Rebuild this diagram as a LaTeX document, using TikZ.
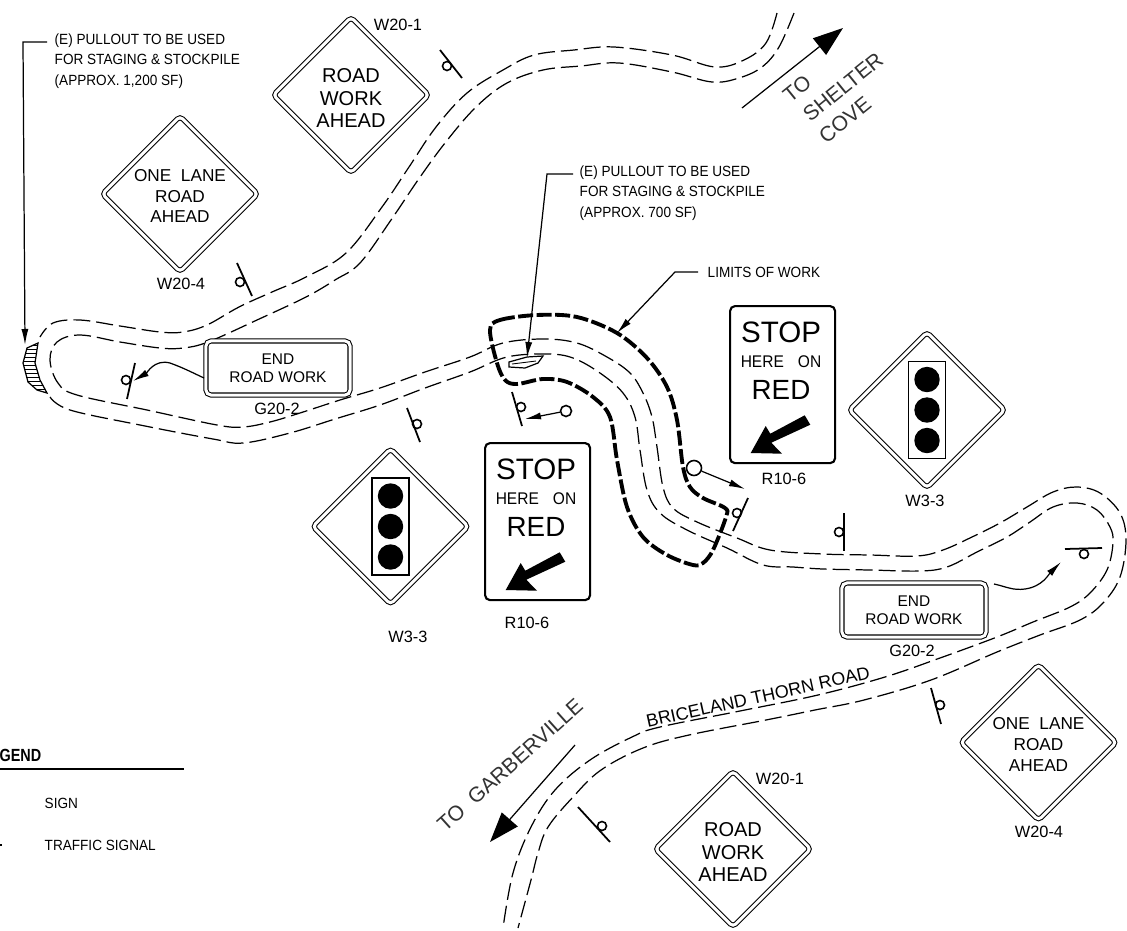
\documentclass[tikz,border=0pt]{standalone}
\usepackage{fontspec}
\setmainfont{Liberation Sans}
\newfontfamily\notefont[FakeStretch=0.92]{Liberation Sans}
\newfontfamily\legendfont[FakeStretch=0.82]{Liberation Sans}
\usetikzlibrary{arrows.meta,shapes.geometric}
\tikzset{
    roadedge/.style={line width=0.35pt,dash pattern=on 0.17cm off 0.06cm},
    limitline/.style={line width=1.1pt,dash pattern=on 0.15cm off 0.035cm},
    roadsign/.style={diamond,draw,double,double distance=0.03cm,line width=0.3pt,aspect=1,inner sep=0pt,
        minimum width=1.56cm,minimum height=1.56cm,rounded corners=0.04cm},
    worktext/.style={inner sep=0pt,align=center,font=\fontsize{5.7}{6.5}\selectfont},
    lanetext/.style={inner sep=0pt,align=center,font=\fontsize{4.9}{5.9}\selectfont},
    endsign/.style={draw,double,double distance=0.03cm,line width=0.3pt,rounded corners=0.05cm,inner sep=0pt,
        minimum width=1.44cm,minimum height=0.54cm,align=center,font=\fontsize{4.4}{5.2}\selectfont},
    stopsign/.style={draw,line width=0.6pt,rounded corners=0.05cm,minimum width=1.05cm,minimum height=1.57cm},
    signcode/.style={inner sep=0pt,font=\fontsize{4.65}{5.5}\selectfont},
    notetext/.style={inner sep=0pt,anchor=west,align=left,font=\notefont\fontsize{4.2}{5.83}\selectfont},
    direction/.style={inner sep=0pt,text=black!80,font=\fontsize{6}{7}\selectfont},
    postring/.style={circle,draw,line width=0.45pt,inner sep=0pt,minimum size=0.09cm},
    postline/.style={line width=0.5pt},
    lamp/.style={circle,fill=black,inner sep=0pt,minimum size=0.254cm},
    leader/.style={line width=0.35pt,-{Latex[length=0.16cm,width=0.07cm]}},
    bigarrow/.style={line width=0.35pt,-{Triangle[length=0.3cm,width=0.21cm]}}
}
\begin{document}
\begin{tikzpicture}[x=0.01cm,y=-0.01cm]
    \useasboundingbox (0,0) rectangle (1127,930);

    \draw[roadedge] plot[smooth,tension=0.6] coordinates {(777,13)(766,43)(744,60)(715,67)(672,55)(614,47)(574,50)(534,55)(503,70)(467,93)(436,127)(409,167)(382,207)(346,253)(306,277)(272,292)(239,307)(207,325)(183,332)(160,332)(120,326)(80,320)(53,323)(40,337)};
    \draw[roadedge] plot[smooth,tension=0.6] coordinates {(794,13)(779,47)(762,67)(739,78)(712,82)(672,72)(619,63)(581,66)(543,70)(507,83)(476,107)(445,143)(418,180)(391,220)(360,263)(335,280)(306,297)(257,320)(208,342)(183,348)(160,348)(120,342)(80,335)(57,342)(50,360)(58,383)(77,395)(147,410)(217,425)(243,427)(270,422)(300,413)(340,400)(380,388)(425,372)(470,357)(503,343)(543,339)(577,343)(607,357)(630,373)(643,393)(652,417)(657,447)(663,487)(673,508)(697,522)(737,538)(770,550)(823,554)(870,555)(917,556)(943,550)(972,537)(1000,523)(1027,507)(1053,492)(1077,487)(1100,493)(1120,513)(1126,540)(1120,577)(1103,603)(1080,620)(1040,635)(997,652)(931,680)(864,700)(815,710)(766,720)(689,735)(643,748)(601,770)(573,797)(548,827)(538,853)(531,880)(518,928)};
    \draw[roadedge] plot[smooth,tension=0.6] coordinates {(50,397)(70,410)(140,425)(213,439)(243,443)(290,433)(335,419)(380,405)(425,388)(470,372)(507,357)(547,354)(573,358)(600,373)(623,393)(635,417)(640,450)(647,490)(660,513)(687,530)(727,548)(763,565)(793,567)(823,569)(870,570)(920,571)(947,567)(977,552)(1007,537)(1030,522)(1053,507)(1077,503)(1097,510)(1110,527)(1113,543)(1107,570)(1090,593)(1070,607)(1033,622)(997,637)(940,658)(885,677)(818,695)(740,711)(660,727)(632,737)(590,760)(555,790)(531,827)(513,873)(503,928)};
    \draw[limitline] plot[smooth cycle,tension=0.55] coordinates {(490,330)(500,320)(537,315)(577,317)(617,333)(647,358)(667,387)(677,420)(683,467)(690,487)(703,498)(725,508)(726,517)(713,550)(703,563)(693,565)(667,555)(643,537)(627,507)(617,460)(610,417)(593,397)(567,382)(543,379)(517,384)(505,380)(497,363)};

    \draw[line width=0.35pt] (38,343) -- (27,348) -- (23,363) -- (28,382) -- (37,390) -- (47,393) -- (40,380) -- (35,363) -- cycle;
    \begin{scope}
        \clip (38,343) -- (27,348) -- (23,363) -- (28,382) -- (37,390) -- (47,393) -- (40,380) -- (35,363) -- cycle;
        \foreach \hy in {345,349,...,393} {
            \draw[line width=0.25pt] (20,\hy) -- (50,\hy);
        }
    \end{scope}
    \draw[line width=0.35pt] (509,362) -- (527,357) -- (543,356) -- (538,363) -- (525,368) -- (509,367) -- cycle;
    \draw[line width=0.25pt] (512,364) -- (536,361);

    \foreach \sname/\sx/\sy in {worka/351/95,workb/733/849} {
        \node[roadsign] (\sname) at (\sx,\sy) {};
        \node[worktext] (\sname text) at (\sx,\sy+3) {ROAD\\WORK\\AHEAD};
    }
    \foreach \sname/\sx/\sy in {lanea/180/194,laneb/1038.5/742.5} {
        \node[roadsign] (\sname) at (\sx,\sy) {};
        \node[lanetext] (\sname text) at (\sx,\sy+2) {ONE\ \ LANE\\ROAD\\AHEAD};
    }
    \foreach \sname/\sx/\sy in {lighta/390.5/526.5,lightb/927/410} {
        \node[roadsign] (\sname) at (\sx,\sy) {};
        \node[draw,line width=0.35pt,inner sep=0pt,minimum width=0.37cm,minimum height=0.97cm] (\sname box) at (\sname) {};
        \node[lamp] (\sname top) at (\sx,\sy-30.5) {};
        \node[lamp] (\sname mid) at (\sx,\sy) {};
        \node[lamp] (\sname low) at (\sx,\sy+30.5) {};
    }
    \foreach \sname/\sx/\sy in {stopa/484/442,stopb/729/305} {
        \node[stopsign,anchor=north west] (\sname) at (\sx,\sy) {};
        \node[inner sep=0pt,font=\fontsize{8.4}{9}\selectfont] (\sname one) at (\sx+52,\sy+27) {STOP};
        \node[inner sep=0pt,font=\notefont\fontsize{4.8}{6}\selectfont] (\sname two) at (\sx+52,\sy+57) {HERE\hspace{0.14cm}ON};
        \node[inner sep=0pt,font=\fontsize{7.9}{9}\selectfont] (\sname three) at (\sx+52,\sy+85) {RED};
        \fill (\sx+75.7,\sy+110.3) -- (\sx+81.3,\sy+119.7) -- (\sx+42.3,\sy+137.7) -- (\sx+53,\sy+148.7) -- (\sx+21.7,\sy+148) -- (\sx+36.7,\sy+121) -- (\sx+41.3,\sy+128.7) -- cycle;
    }
    \node[endsign] (enda) at (278,368) {END\\ROAD WORK};
    \node[endsign] (endb) at (914,610) {END\\ROAD WORK};

    \node[signcode] (codea) at (398,25) {W20-1};
    \node[signcode] (codeb) at (181,284) {W20-4};
    \node[signcode] (codec) at (277,409) {G20-2};
    \node[signcode] (coded) at (408,637) {W3-3};
    \node[signcode] (codee) at (527,623) {R10-6};
    \node[signcode] (codef) at (784,479) {R10-6};
    \node[signcode] (codeg) at (925,501) {W3-3};
    \node[signcode] (codeh) at (912,651) {G20-2};
    \node[signcode] (codei) at (780,779) {W20-1};
    \node[signcode] (codej) at (1039,832) {W20-4};

    \foreach \pname/\pa/\pb/\pc in {a/{237,263}/{252,296}/{240,282},b/{440,50}/{462,78}/{447,66},c/{135,363}/{127,399}/{126,380},d/{512,392}/{522,426}/{521,407},e/{407,408}/{420,442}/{417,424},f/{748,498}/{733,531}/{737,513},g/{844,513}/{844,551}/{839,532},h/{1065,549}/{1102,548}/{1084,554},i/{931,688}/{941,724}/{940,705},j/{578,807}/{610,842}/{602,826}} {
        \node[postring] (post\pname) at (\pc) {};
        \draw[postline] (\pa) -- (\pb);
    }

    \node[postring,minimum size=0.11cm] (signala) at (566,411) {};
    \coordinate (signalatip) at (525,419);
    \draw[leader] (signala) -- (signalatip);
    \node[postring,minimum size=0.15cm] (signalb) at (694,468) {};
    \coordinate (signalbtip) at (745,489);
    \draw[leader] (signalb) -- (signalbtip);

    \coordinate (endafoot) at (204,378);
    \coordinate (endamid) at (170,363);
    \coordinate (endatip) at (133,381);
    \draw[leader] (endafoot) to[out=155,in=-20] (endamid) to[out=165,in=30] (endatip);
    \coordinate (endbfoot) at (994,584);
    \coordinate (endbmid) at (1025,589);
    \coordinate (endbtip) at (1061,562);
    \draw[leader] (endbfoot) to[out=-12,in=188] (endbmid) to[out=8,in=225] (endbtip);

    \node[notetext] (notea) at (54,61) {(E) PULLOUT TO BE USED\\FOR STAGING \& STOCKPILE\\(APPROX. 1,200 SF)};
    \node[notetext] (noteb) at (579,193) {(E) PULLOUT TO BE USED\\FOR STAGING \& STOCKPILE\\(APPROX. 700 SF)};
    \node[notetext] (notec) at (707,272) {LIMITS OF WORK};
    \coordinate (noteastart) at (47,42);
    \coordinate (noteabend) at (23,42);
    \coordinate (noteatip) at (25,345);
    \draw[leader] (noteastart) -- (noteabend) -- (noteatip);
    \coordinate (notebstart) at (573,174);
    \coordinate (notebbend) at (547,174);
    \coordinate (notebtip) at (527,358);
    \draw[leader] (notebstart) -- (notebbend) -- (notebtip);
    \coordinate (notecstart) at (698,272);
    \coordinate (notecbend) at (675,272);
    \coordinate (notectip) at (617,333);
    \draw[leader] (notecstart) -- (notecbend) -- (notectip);

    \coordinate (shelterfoot) at (742,108);
    \coordinate (sheltertip) at (843,28);
    \draw[bigarrow] (shelterfoot) -- (sheltertip);
    \node[direction,rotate=39] (shelterto) at (797,89) {TO};
    \node[direction,rotate=39] (shelterone) at (843,87) {SHELTER};
    \node[direction,rotate=39] (sheltertwo) at (845,120) {COVE};
    \coordinate (garbfoot) at (575,745);
    \coordinate (garbtip) at (490,842);
    \draw[bigarrow] (garbfoot) -- (garbtip);
    \node[direction,rotate=42] (garbname) at (510,765) {TO\ \ GARBERVILLE};
    \node[inner sep=0pt,rotate=12.4,font=\fontsize{5.1}{6}\selectfont] (roadname) at (758,697) {BRICELAND THORN ROAD};

    \node[inner sep=0pt,anchor=east,font=\legendfont\bfseries\fontsize{5}{6}\selectfont] (legendhead) at (42,755) {GEND};
    \coordinate (legendleft) at (0,769);
    \coordinate (legendright) at (184,769);
    \draw[line width=0.35pt] (legendleft) -- (legendright);
    \node[notetext] (legendsign) at (44,803) {SIGN};
    \node[notetext] (legendsignal) at (44,845) {TRAFFIC SIGNAL};
    \draw[line width=0.3pt] (0,845) -- (2,845);
\end{tikzpicture}
\end{document}
